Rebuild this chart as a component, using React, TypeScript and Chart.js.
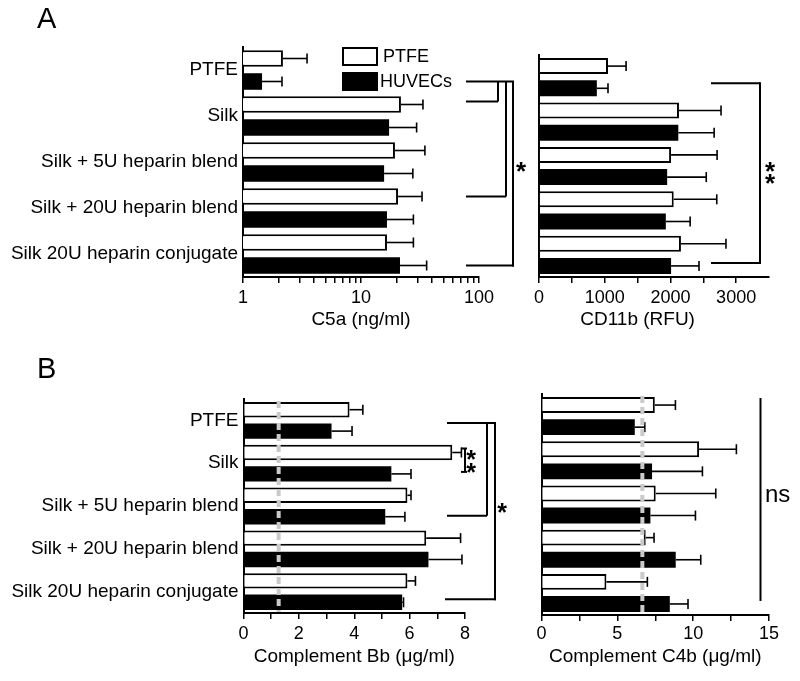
import React, { useEffect, useRef } from "react";
import { Chart, registerables } from "chart.js";

Chart.register(...registerables);

const FONT = "'Liberation Sans', Arial, Helvetica, sans-serif";
Chart.defaults.font.family = FONT;
Chart.defaults.color = "#000";

// ---------- data ----------
const categories = [
  "PTFE",
  "Silk",
  "Silk + 5U heparin blend",
  "Silk + 20U heparin blend",
  "Silk 20U heparin conjugate",
];
const seriesNames = ["PTFE", "HUVECs"];

// Panel A: C5a (ng/ml), log axis
const c5aPtfe = [2.18, 21.8, 19.4, 20.6, 16.6];
const c5aPtfeSd = [1.31, 11.7, 15.4, 12.3, 11.2];
const c5aHuvec = [1.45, 17.3, 15.7, 16.6, 21.4];
const c5aHuvecSd = [0.69, 12.3, 11.8, 11.2, 14.6];
const c5aTicks = [1, 2, 3, 4, 5, 6, 7, 8, 9, 10, 20, 30, 40, 50, 60, 70, 80, 90, 100];
const c5aTickLabels = [1, 10, 100];

// Panel A: CD11b (RFU)
const cd11bPtfe = [1050, 2130, 2010, 2050, 2160];
const cd11bPtfeSd = [275, 640, 700, 655, 685];
const cd11bHuvec = [880, 2120, 1950, 1930, 2010];
const cd11bHuvecSd = [170, 545, 595, 370, 425];
const cd11bTickLabels = [0, 1000, 2000, 3000];

// Panel B: Complement Bb (µg/ml)
const bbPtfe = [3.83, 7.54, 5.92, 6.6, 5.92];
const bbPtfeSd = [0.48, 0.33, 0.13, 1.24, 0.29];
const bbHuvec = [3.18, 5.34, 5.12, 6.68, 5.73];
const bbHuvecSd = [0.74, 0.71, 0.71, 1.21, 0.05];
const bbTickLabels = [0, 2, 4, 6, 8];
const bbRefLine = 1.27;

// Panel B: Complement C4b (µg/ml)
const c4bPtfe = [7.47, 10.39, 7.53, 6.87, 4.28];
const c4bPtfeSd = [1.36, 2.46, 3.96, 0.55, 2.7];
const c4bHuvec = [6.15, 7.29, 7.18, 8.85, 8.46];
const c4bHuvecSd = [0.66, 3.32, 2.97, 1.65, 1.2];
const c4bTickLabels = [0, 5, 10, 15];
const c4bRefLine = 6.65;

// ---------- helpers ----------
function yOf(chart: any, ds: number, cat: number): number {
  return chart.getDatasetMeta(ds).data[cat].y;
}
function seg(ctx: CanvasRenderingContext2D, x1: number, y1: number, x2: number, y2: number) {
  ctx.beginPath();
  ctx.moveTo(x1, y1);
  ctx.lineTo(x2, y2);
  ctx.stroke();
}
function star(ctx: CanvasRenderingContext2D, cx: number, cy: number, size: number) {
  ctx.save();
  ctx.font = `bold ${size}px ${FONT}`;
  ctx.textAlign = "center";
  ctx.textBaseline = "alphabetic";
  ctx.fillStyle = "#000";
  ctx.fillText("*", cx, cy + 0.6 * size);
  ctx.restore();
}
function lineStyle(ctx: CanvasRenderingContext2D) {
  ctx.strokeStyle = "#000";
  ctx.lineWidth = 2;
  ctx.setLineDash([]);
  ctx.lineCap = "butt";
}

const errPlugin = {
  id: "errbars",
  afterDatasetsDraw(chart: any) {
    const ctx = chart.ctx as CanvasRenderingContext2D;
    const xs = chart.scales.x;
    ctx.save();
    ctx.strokeStyle = "#000";
    ctx.lineWidth = 1.6;
    chart.data.datasets.forEach((ds: any, di: number) => {
      const meta = chart.getDatasetMeta(di);
      meta.data.forEach((el: any, i: number) => {
        const v = ds.data[i];
        const sd = ds.sd[i];
        const x0 = el.x;
        const x1 = xs.getPixelForValue(v + sd);
        const y = el.y;
        seg(ctx, x0, y, x1, y);
        seg(ctx, x1, y - 5, x1, y + 5);
      });
    });
    const ref = chart.options.plugins.refLine;
    if (ref && ref.value != null) {
      const ca = chart.chartArea;
      const x = xs.getPixelForValue(ref.value);
      ctx.strokeStyle = "#cacaca";
      ctx.lineWidth = 4;
      ctx.setLineDash([7, 4]);
      seg(ctx, x, ca.top + 2, x, ca.bottom - 1);
    }
    ctx.restore();
  },
};

type Area = { left: number; top: number; right: number; bottom: number };
type PanelSpec = {
  area: Area;
  xH: number;
  tickPad: number;
  showCats: boolean;
  showTitle: boolean;
  xType: "linear" | "logarithmic";
  min: number;
  max: number;
  step?: number;
  tickValues?: number[];
  tickLabels: number[];
  title: string;
  white: number[];
  whiteSd: number[];
  black: number[];
  blackSd: number[];
  refLine?: number;
  annotate: (chart: any) => void;
};

function makeConfig(p: PanelSpec): any {
  const yW = p.showCats ? p.area.left - 10 : 10;
  const lastLabel = Math.max(...p.tickLabels);
  return {
    type: "bar",
    data: {
      labels: categories,
      datasets: [
        {
          label: seriesNames[0],
          data: p.white,
          sd: p.whiteSd,
          backgroundColor: "#ffffff",
          borderColor: "#000000",
          borderWidth: 2,
          borderSkipped: "start",
          barPercentage: 0.72,
          categoryPercentage: 1,
        },
        {
          label: seriesNames[1],
          data: p.black,
          sd: p.blackSd,
          backgroundColor: "#000000",
          borderColor: "#000000",
          borderWidth: 0,
          inflateAmount: 0,
          barPercentage: 0.72,
          categoryPercentage: 1,
        },
      ],
    },
    options: {
      indexAxis: "y",
      responsive: false,
      animation: false,
      events: [],
      layout: {
        padding: {
          left: p.area.left - yW,
          top: p.area.top,
          right: 800 - p.area.right,
          bottom: 681 - p.area.bottom - p.xH,
        },
      },
      plugins: {
        legend: { display: false },
        tooltip: { enabled: false },
        refLine: { value: p.refLine },
      },
      scales: {
        x: {
          type: p.xType,
          position: "bottom",
          min: p.min,
          max: p.max,
          z: 1,
          afterFit: (s: any) => {
            s.height = p.xH;
          },
          afterBuildTicks: (s: any) => {
            if (p.tickValues) s.ticks = p.tickValues.map((v) => ({ value: v }));
            else s.ticks = s.ticks.filter((t: any) => t.value <= lastLabel + 1e-9);
          },
          ticks: {
            autoSkip: false,
            maxRotation: 0,
            padding: p.tickPad,
            stepSize: p.step,
            color: "#000",
            font: { size: 18, family: FONT },
            callback: (v: any) => (p.tickLabels.includes(Number(v)) ? String(v) : ""),
          },
          grid: {
            display: true,
            drawOnChartArea: false,
            drawTicks: true,
            tickLength: 6,
            color: "#000",
            lineWidth: 1.5,
          },
          border: { display: true, color: "#000", width: 2 },
          title: {
            display: p.showTitle,
            text: p.title,
            color: "#000",
            font: { size: 19, family: FONT },
            padding: { top: 0, bottom: 0 },
          },
        },
        y: {
          type: "category",
          position: "left",
          offset: true,
          z: 1,
          afterFit: (s: any) => {
            s.width = yW;
          },
          ticks: {
            display: p.showCats,
            padding: 5,
            autoSkip: false,
            color: "#000",
            font: { size: 19, family: FONT },
          },
          grid: { display: false, drawTicks: false },
          border: { display: true, color: "#000", width: 2 },
        },
      },
    },
    plugins: [errPlugin, { id: "annot", afterDraw: (chart: any) => p.annotate(chart) }],
  };
}

// ---------- panels ----------
const panelA1: PanelSpec = {
  area: { left: 243, top: 47, right: 479, bottom: 277 },
  xH: 54,
  tickPad: 4,
  showCats: true,
  showTitle: true,
  xType: "logarithmic",
  min: 1,
  max: 100,
  tickValues: c5aTicks,
  tickLabels: c5aTickLabels,
  title: "C5a (ng/ml)",
  white: c5aPtfe,
  whiteSd: c5aPtfeSd,
  black: c5aHuvec,
  blackSd: c5aHuvecSd,
  annotate: (chart) => {
    const ctx = chart.ctx as CanvasRenderingContext2D;
    const ca = chart.chartArea;
    const R = ca.right;
    ctx.save();
    lineStyle(ctx);
    const y1 = yOf(chart, 1, 0);
    const y2 = yOf(chart, 0, 1) - 3;
    const y6 = yOf(chart, 0, 3);
    const y9 = yOf(chart, 1, 4);
    seg(ctx, R - 13, y1, R + 35, y1);
    seg(ctx, R + 19, y1, R + 19, y2);
    seg(ctx, R - 13, y2, R + 19, y2);
    seg(ctx, R + 27, y1, R + 27, y6);
    seg(ctx, R - 13, y6, R + 27, y6);
    seg(ctx, R + 34, y1, R + 34, y9 + 1);
    seg(ctx, R - 13, y9, R + 35, y9);
    star(ctx, R + 42, (y1 + y9) / 2 - 9, 26);

    // legend
    const ds = chart.data.datasets;
    const bx = ca.left + 100;
    ctx.lineWidth = 2;
    ctx.fillStyle = "#fff";
    ctx.fillRect(bx, ca.top + 1, 34, 17);
    ctx.strokeRect(bx, ca.top + 1, 34, 17);
    ctx.fillStyle = "#000";
    ctx.fillRect(bx - 1, ca.top + 25, 36, 19);
    ctx.font = `18px ${FONT}`;
    ctx.textAlign = "left";
    ctx.textBaseline = "middle";
    ctx.fillText(ds[0].label, bx + 40, ca.top + 10);
    ctx.fillText(ds[1].label, bx + 37, ca.top + 35);

    // panel letter
    ctx.font = `29px ${FONT}`;
    ctx.textBaseline = "alphabetic";
    ctx.fillText("A", 37, 28);
    ctx.restore();
  },
};

const panelA2: PanelSpec = {
  area: { left: 539, top: 55, right: 769, bottom: 277 },
  xH: 54,
  tickPad: 4,
  showCats: false,
  showTitle: false,
  xType: "linear",
  min: 0,
  max: 3500,
  step: 500,
  tickLabels: cd11bTickLabels,
  title: "CD11b (RFU)",
  white: cd11bPtfe,
  whiteSd: cd11bPtfeSd,
  black: cd11bHuvec,
  blackSd: cd11bHuvecSd,
  annotate: (chart) => {
    const ctx = chart.ctx as CanvasRenderingContext2D;
    const R = chart.chartArea.right;
    const xs = chart.scales.x;
    ctx.save();
    lineStyle(ctx);
    const yt = yOf(chart, 1, 0) - 5;
    const yb = yOf(chart, 1, 4) - 3;
    seg(ctx, R - 58, yt, R - 9, yt);
    seg(ctx, R - 9, yt - 1, R - 9, yb + 1);
    seg(ctx, R - 58, yb, R - 9, yb);
    star(ctx, R + 1, 164, 26);
    star(ctx, R + 1, 176, 26);
    // axis title, centred under the labelled 0–3000 range
    const xc = (xs.getPixelForValue(0) + xs.getPixelForValue(3000)) / 2;
    ctx.fillStyle = "#000";
    ctx.font = `19px ${FONT}`;
    ctx.textAlign = "center";
    ctx.textBaseline = "middle";
    ctx.fillText(chart.options.scales.x.title.text, xc, 320);
    ctx.restore();
  },
};

const panelB1: PanelSpec = {
  area: { left: 243.5, top: 399, right: 465, bottom: 613 },
  xH: 55,
  tickPad: 4,
  showCats: true,
  showTitle: true,
  xType: "linear",
  min: 0,
  max: 8,
  step: 1,
  tickLabels: bbTickLabels,
  title: "Complement Bb (\u03bcg/ml)",
  white: bbPtfe,
  whiteSd: bbPtfeSd,
  black: bbHuvec,
  blackSd: bbHuvecSd,
  refLine: bbRefLine,
  annotate: (chart) => {
    const ctx = chart.ctx as CanvasRenderingContext2D;
    const R = chart.chartArea.right;
    ctx.save();
    lineStyle(ctx);
    // ** bracket (Silk PTFE vs Silk HUVECs)
    const ya = yOf(chart, 0, 1) - 4;
    const yb = yOf(chart, 1, 1) - 2;
    seg(ctx, R, ya, R, yb);
    seg(ctx, R - 4, ya, R + 2, ya);
    seg(ctx, R - 4, yb, R + 2, yb);
    star(ctx, R + 6, ya + 4, 25);
    star(ctx, R + 6, yb - 6, 25);
    // brackets
    const yTop = yOf(chart, 1, 0) - 8;
    const y5 = yOf(chart, 1, 2) - 1;
    const y9 = yOf(chart, 1, 4) - 3;
    seg(ctx, R - 18, yTop, R + 31, yTop);
    seg(ctx, R + 22, yTop, R + 22, y5);
    seg(ctx, R - 18, y5, R + 22, y5);
    seg(ctx, R + 30, yTop, R + 30, y9 + 1);
    seg(ctx, R - 20, y9, R + 31, y9);
    star(ctx, R + 37, 506, 25);
    // panel letter
    ctx.fillStyle = "#000";
    ctx.font = `29px ${FONT}`;
    ctx.textAlign = "left";
    ctx.textBaseline = "alphabetic";
    ctx.fillText("B", 37, 378);
    ctx.restore();
  },
};

const panelB2: PanelSpec = {
  area: { left: 541.5, top: 394, right: 769, bottom: 615 },
  xH: 53,
  tickPad: 2,
  showCats: false,
  showTitle: true,
  xType: "linear",
  min: 0,
  max: 15,
  step: 2.5,
  tickLabels: c4bTickLabels,
  title: "Complement C4b (\u03bcg/ml)",
  white: c4bPtfe,
  whiteSd: c4bPtfeSd,
  black: c4bHuvec,
  blackSd: c4bHuvecSd,
  refLine: c4bRefLine,
  annotate: (chart) => {
    const ctx = chart.ctx as CanvasRenderingContext2D;
    const R = chart.chartArea.right;
    ctx.save();
    lineStyle(ctx);
    const xl = R - 8.5;
    seg(ctx, xl, yOf(chart, 0, 0) - 7, xl, yOf(chart, 1, 4) - 3);
    ctx.fillStyle = "#000";
    ctx.font = `24px ${FONT}`;
    ctx.textAlign = "left";
    ctx.textBaseline = "middle";
    ctx.fillText("ns", R - 4, 495);
    ctx.restore();
  },
};

function Panel({ spec }: { spec: PanelSpec }) {
  const ref = useRef<HTMLCanvasElement>(null);
  useEffect(() => {
    const chart = new Chart(ref.current as HTMLCanvasElement, makeConfig(spec));
    return () => chart.destroy();
  }, [spec]);
  return (
    <canvas
      ref={ref}
      width={800}
      height={681}
      style={{ position: "absolute", left: 0, top: 0, width: 800, height: 681 }}
    />
  );
}

export default function App() {
  return (
    <div
      style={{
        position: "fixed",
        left: 0,
        top: 0,
        width: 800,
        height: 681,
        background: "#fff",
        overflow: "hidden",
      }}
    >
      <Panel spec={panelA1} />
      <Panel spec={panelA2} />
      <Panel spec={panelB1} />
      <Panel spec={panelB2} />
    </div>
  );
}
